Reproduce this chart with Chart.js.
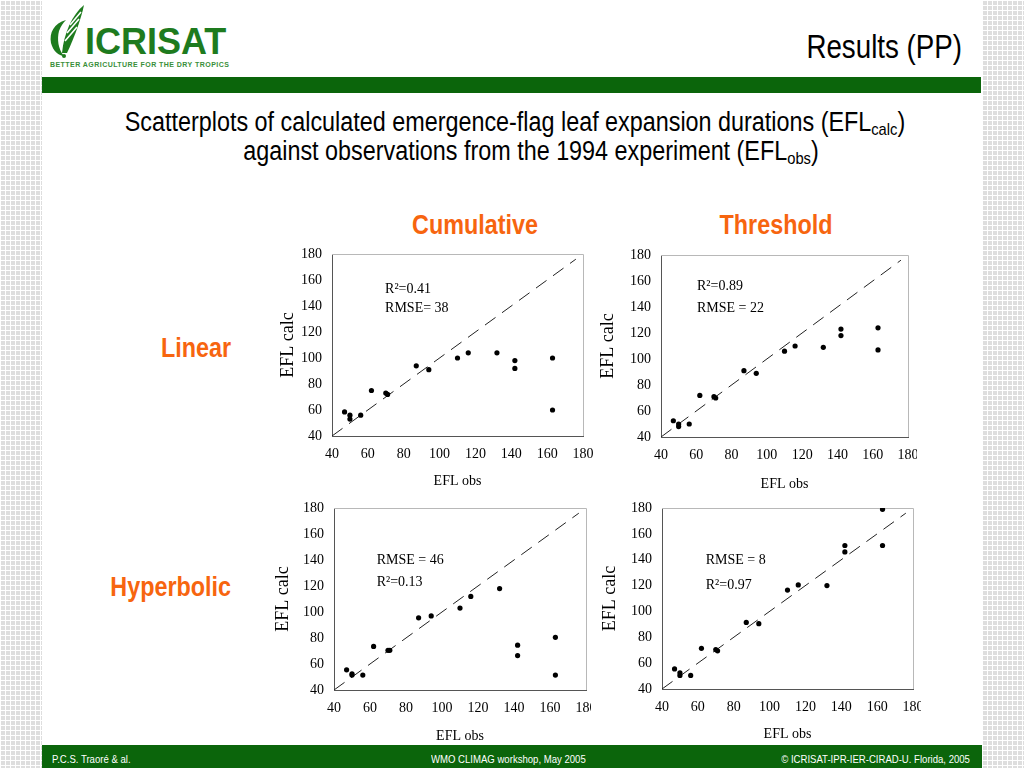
<!DOCTYPE html>
<html>
<head>
<meta charset="utf-8">
<script src="https://cdn.jsdelivr.net/npm/chart.js@4.4.1/dist/chart.umd.min.js"></script>
<style>
body { margin:0; width:1024px; height:768px; position:relative; overflow:hidden; background:#fff;
  font-family:"Liberation Sans",Arial,sans-serif; }
.pattern { position:absolute; top:0; width:42px; height:768px; background-color:#dedede;
  background-image: linear-gradient(90deg,#fff 1px,transparent 1px), linear-gradient(#fff 1px,transparent 1px);
  background-size:5px 5px; }
.abs { position:absolute; white-space:nowrap; }
.narrow { transform:scaleX(0.865); }
.orange { color:#f7650f; font-weight:bold; font-size:27px; line-height:30px; }
.plot { position:absolute; overflow:hidden; }
.plot canvas { display:block; }
.foot { position:absolute; top:745px; left:42px; width:940px; height:23px; background:#0b650b; color:#fff; font-size:11px; }
.foot span { position:absolute; top:8px; transform:scaleX(0.87); }
</style>
</head>
<body>
<div class="pattern" style="left:0"></div>
<div class="pattern" style="left:982px"></div>

<!-- logo -->
<svg class="abs" style="left:46px;top:3px" width="40" height="56" viewBox="0 0 40 56">
  <path d="M20 17 C8 20 3 30 5 40 C7 48 13 53 18 53 C12 46 11 36 13 28 C15 23 17 20 20 17 Z" fill="#1e7b1e"/>
  <path d="M16 50 C18 30 26 12 38 2 C35 16 29 33 21 50 Z" fill="#1e7b1e"/>
  <path d="M19 38 L31 24 M21 30 L33 16 M24 22 L35 9" stroke="#fff" stroke-width="1.6"/>
  <circle cx="18" cy="53" r="2" fill="#1e7b1e"/>
</svg>
<div class="abs" style="left:85px;top:21px;font:bold 36px 'Liberation Sans',Arial,sans-serif;color:#1e7b1e;">ICRISAT</div>
<div class="abs" style="left:50px;top:61px;font:bold 7px 'Liberation Sans',Arial,sans-serif;color:#3a8f3a;letter-spacing:0.45px;">BETTER AGRICULTURE FOR THE DRY TROPICS</div>
<div class="abs" style="left:662px;width:300px;top:28px;text-align:right;font-size:33px;line-height:38px;color:#000;transform:scaleX(0.84);transform-origin:right center;">Results (PP)</div>
<div class="abs" style="left:42px;top:77px;width:939px;height:16px;background:#0b650b;"></div>

<!-- headings -->
<div class="abs narrow" style="left:15px;width:1000px;top:107px;text-align:center;font-size:27px;line-height:30px;">Scatterplots of calculated emergence-flag leaf expansion durations (EFL<sub style="font-size:17px;vertical-align:-4px">calc</sub>)</div>
<div class="abs narrow" style="left:31px;width:1000px;top:136px;text-align:center;font-size:27px;line-height:30px;">against observations from the 1994 experiment (EFL<sub style="font-size:17px;vertical-align:-4px">obs</sub>)</div>
<div class="abs orange narrow" style="left:375px;width:200px;top:210px;text-align:center;">Cumulative</div>
<div class="abs orange narrow" style="left:676px;width:200px;top:210px;text-align:center;">Threshold</div>
<div class="abs orange narrow" style="left:31px;width:200px;top:333px;text-align:right;transform-origin:right center;">Linear</div>
<div class="abs orange narrow" style="left:31px;width:200px;top:572px;text-align:right;transform-origin:right center;">Hyperbolic</div>

<div class="plot" id="box0"><canvas id="Scatter1"></canvas></div>
<div class="plot" id="box1"><canvas id="Scatter2"></canvas></div>
<div class="plot" id="box2"><canvas id="Scatter3"></canvas></div>
<div class="plot" id="box3"><canvas id="Scatter4"></canvas></div>

<div class="foot">
  <span style="left:10px;transform-origin:left center">P.C.S. Traoré &amp; al.</span>
  <span style="left:389px;transform-origin:left center">WMO CLIMAG workshop, May 2005</span>
  <span style="right:12px;transform-origin:right center">© ICRISAT-IPR-IER-CIRAD-U. Florida, 2005</span>
</div>

<script>
// EFL data -----------------------------------------------------------------------------------
const eflObs = [47, 50, 50, 56, 62, 70, 71, 87, 94, 110, 116, 132, 142, 142, 163, 163];
const linearCumulative = [58.5, 56, 53, 56, 75, 73, 72, 94, 91, 100, 104, 104, 98, 92, 100, 60];
const linearThreshold = [52.5, 50, 48, 50, 72, 71, 70, 91, 89, 106, 110, 109, 123, 118, 124, 107];
const hyperbolicCumulative = [55.5, 52.5, 51.5, 51.5, 73.5, 70.5, 70.5, 95.5, 97, 103, 112, 118, 74.5, 66.5, 80.5, 51.5];
const hyperbolicThreshold = [55.5, 52.5, 50.5, 50.5, 71.5, 70.5, 69.5, 91.5, 90.5, 116.5, 120.5, 120, 151, 146, 179, 151];
const oneToOne = [40, 176];
const axisMin = 40, axisMax = 180, axisStep = 20;
const statTexts = [['R²=0.41', 'RMSE= 38'], ['R²=0.89', 'RMSE = 22'], ['RMSE = 46', 'R²=0.13'], ['RMSE = 8', 'R²=0.97']];
const calcSeries = [linearCumulative, linearThreshold, hyperbolicCumulative, hyperbolicThreshold];

// where each little chart sits on the slide (chart area = yW from left, 20 from top, 24 from right, xH from bottom)
const boxes = [
  {left: 270, top: 234, w: 337, clip: 337, h: 260, yW: 62, xH: 58, yTitlePad: 7, statX: 69.6, statY: [152.5, 138.2]},
  {left: 596, top: 235, w: 336, clip: 321, h: 262, yW: 65, xH: 60, yTitlePad: 1, statX: 60.4, statY: [155.6, 139]},
  {left: 268, top: 488, w: 342, clip: 323, h: 261, yW: 66, xH: 59, yTitlePad: 4, statX: 63.7, statY: [140, 122.9]},
  {left: 596, top: 488, w: 341, clip: 325, h: 259, yW: 66, xH: 58, yTitlePad: 3, statX: 64.4, statY: [139.2, 120.4]}
];

const serif = 'Liberation Serif, Times New Roman, serif';

// light grey frame on top/right + the R2 / RMSE notes
const frameAndStats = {
  id: 'frameAndStats',
  beforeDatasetsDraw(chart) {
    const {ctx, chartArea: {left, top, right, bottom}} = chart;
    ctx.save();
    ctx.strokeStyle = '#b8b8b8';
    ctx.lineWidth = 1;
    ctx.beginPath();
    ctx.moveTo(left, top + 0.5);
    ctx.lineTo(right + 0.5, top + 0.5);
    ctx.lineTo(right + 0.5, bottom);
    ctx.stroke();
    ctx.restore();
  },
  afterDatasetsDraw(chart, args, opts) {
    const {ctx, scales: {x, y}} = chart;
    ctx.save();
    ctx.font = '14px ' + serif;
    ctx.fillStyle = '#000';
    ctx.textAlign = 'left';
    ctx.textBaseline = 'middle';
    opts.lines.forEach((t, k) => {
      ctx.fillText(t, x.getPixelForValue(opts.x), y.getPixelForValue(opts.y[k]));
    });
    ctx.restore();
  }
};

for (let i = 0; i < 4; i++) {
  const b = boxes[i];
  const holder = document.getElementById('box' + i);
  holder.style.left = b.left + 'px';
  holder.style.top = b.top + 'px';
  holder.style.width = b.clip + 'px';
  holder.style.height = b.h + 'px';
  const cv = document.getElementById('Scatter' + (i + 1));
  cv.width = b.w;
  cv.height = b.h;
  cv.style.width = b.w + 'px';
  cv.style.height = b.h + 'px';

  new Chart(cv, {
    type: 'scatter',
    data: {
      datasets: [{
        data: eflObs.map((v, k) => ({x: v, y: calcSeries[i][k]})),
        pointRadius: 2.6,
        pointBackgroundColor: '#000',
        pointBorderWidth: 0
      }, {
        type: 'line',
        data: oneToOne.map(v => ({x: v, y: v})),
        borderColor: '#222',
        borderWidth: 1,
        borderDash: [13, 8],
        pointRadius: 0,
        fill: false
      }]
    },
    options: {
      responsive: false,
      animation: false,
      events: [],
      layout: {padding: {top: 20, right: 24, left: 0, bottom: 0}},
      plugins: {
        legend: {display: false},
        tooltip: {enabled: false},
        frameAndStats: {lines: statTexts[i], x: b.statX, y: b.statY}
      },
      scales: {
        x: {
          min: axisMin, max: axisMax,
          ticks: {stepSize: axisStep, padding: 10, color: '#000', font: {family: serif, size: 14}},
          grid: {drawOnChartArea: false, drawTicks: false},
          border: {color: '#555', width: 1},
          title: {display: true, text: 'EFL obs', color: '#000', font: {family: serif, size: 14}, padding: {top: 4, bottom: 4}},
          afterFit: s => { s.height = b.xH; }
        },
        y: {
          min: axisMin, max: axisMax,
          ticks: {stepSize: axisStep, padding: 10, color: '#000', font: {family: serif, size: 14}},
          grid: {drawOnChartArea: false, drawTicks: false},
          border: {color: '#555', width: 1},
          title: {display: true, text: 'EFL calc', color: '#000', font: {family: serif, size: 18}, padding: {top: b.yTitlePad, bottom: 4}},
          afterFit: s => { s.width = b.yW; }
        }
      }
    },
    plugins: [frameAndStats]
  });
}
</script>
</body>
</html>
